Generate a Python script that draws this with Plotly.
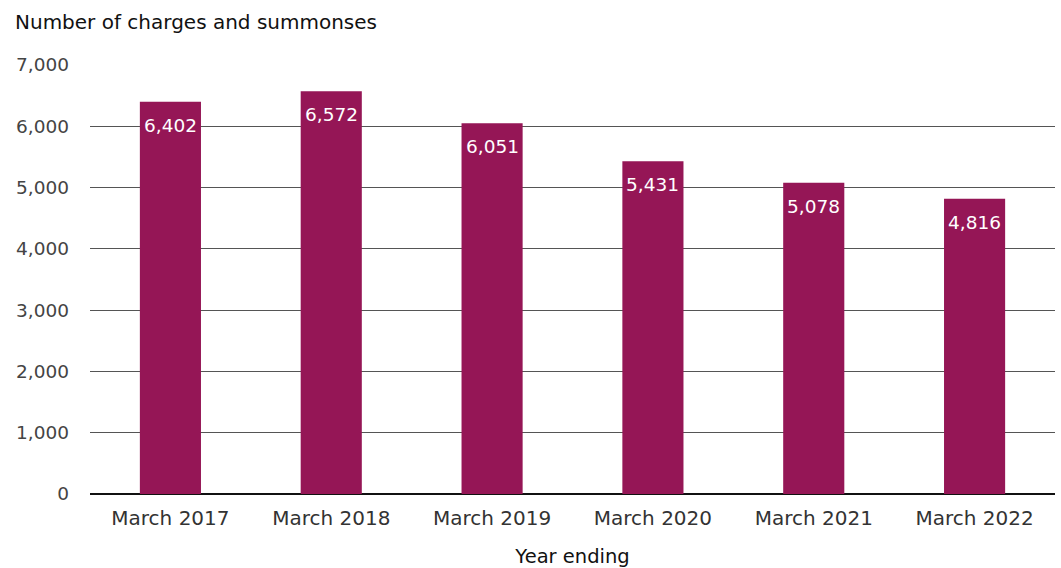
import plotly.graph_objects as go

categories = ["March 2017", "March 2018", "March 2019", "March 2020", "March 2021", "March 2022"]
values = [6402, 6572, 6051, 5431, 5078, 4816]
labels = [f"{v:,}" for v in values]
y_ticks = [0, 1000, 2000, 3000, 4000, 5000, 6000, 7000]
y_tick_text = [f"{t:,}" for t in y_ticks]

BAR = "#951656"
FONT = "DejaVu Sans, Liberation Sans, Arial, sans-serif"

fig = go.Figure()
fig.add_trace(go.Bar(x=categories, y=values, marker=dict(color=BAR, line=dict(width=0)),
                     width=0.38, hoverinfo="x+y"))

for c, v, t in zip(categories, values, labels):
    fig.add_annotation(x=c, y=v, text=t, showarrow=False, yanchor="top", yshift=-11,
                       font=dict(family=FONT, size=18.5, color="white"))

fig.update_layout(
    width=1061, height=568,
    margin=dict(l=90, r=6, t=65, b=74),
    plot_bgcolor="white", paper_bgcolor="white",
    font=dict(family=FONT, size=18, color="#333333"),
    showlegend=False,
    bargap=0.62,
    xaxis=dict(title=dict(text="Year ending", font=dict(size=19.5, color="#111"), standoff=22),
               tickfont=dict(size=20, color="#333"), showgrid=False, showline=False,
               ticks="", ticklabelstandoff=10, automargin=False),
    yaxis=dict(range=[0, 7000], tickvals=y_ticks, ticktext=y_tick_text,
               showgrid=True, gridcolor="#555555", gridwidth=1,
               zeroline=True, zerolinecolor="#111111", zerolinewidth=1.5,
               tickfont=dict(size=18.5, color="#444"), ticks="", ticklabelstandoff=20,
               showline=False, automargin=False),
    annotations=list(fig.layout.annotations) + [
        dict(text="Number of charges and summonses", xref="paper", yref="paper",
             x=-0.08, y=1.0, yshift=57, xanchor="left", yanchor="top", showarrow=False,
             font=dict(family=FONT, size=20, color="#111"))
    ],
)

fig.write_html("out.html")
